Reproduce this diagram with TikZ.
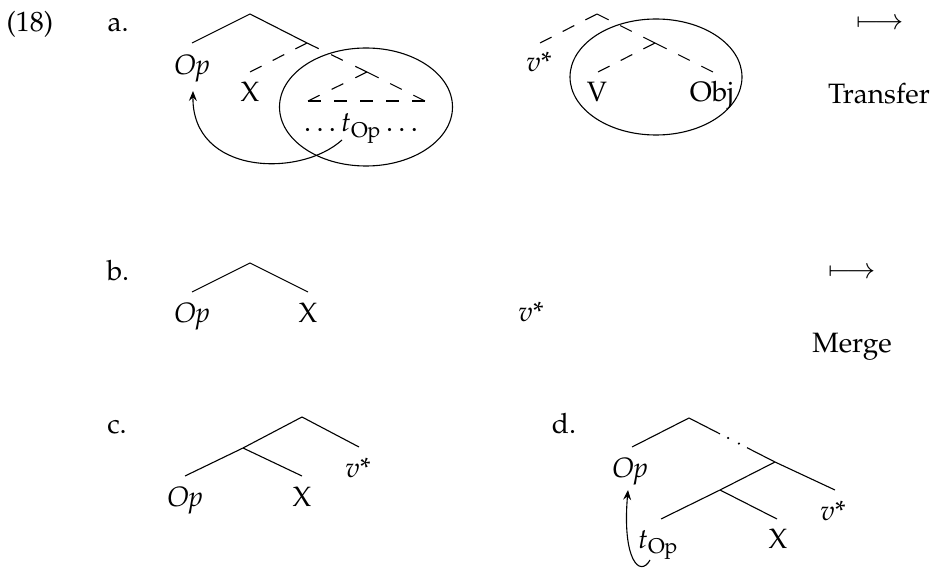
\documentclass[tikz,border=0pt]{standalone}
\usepackage[T1]{fontenc}
\usepackage{mathpazo}
\usetikzlibrary{arrows.meta,calc}
\begin{document}
\begin{tikzpicture}[x=1pt,y=-1pt,
  br/.style={line width=1.1pt},
  dfit/.style={line width=1.1pt, dash pattern=on 13pt off #1pt},
  mv/.style={line width=1.1pt, -{Stealth[length=10pt,width=8pt,inset=3.5pt]}},
  lab/.style={anchor=base, inner sep=0pt, font=\fontsize{28}{34}\selectfont}]
\useasboundingbox (0,0) rectangle (935,569);

% ---------- labels of the example ----------
\node[lab] (n18) at (30,32) {(18)};
\node[lab] (la) at (118,32) {a.};
\node[lab] (lb) at (118,281) {b.};
\node[lab] (lc) at (117,433) {c.};
\node[lab] (ld) at (564,433) {d.};

% ---------- (a) first tree ----------
\coordinate (a1r) at (250,14);
\coordinate (a1op) at (192,43);
\coordinate (a1n) at (307,43);
\coordinate (a1x) at (250,72);
\coordinate (a1m) at (367,72);
\coordinate (a1tl) at (308,101);
\coordinate (a1tr) at (425,101);
\draw[br] (a1op) -- (a1r) -- (a1n);
\draw[dfit=12.5] (a1n) -- (a1x);
\draw[dfit=13.8] (a1n) -- (a1m);
\draw[dfit=13.4] (a1m) -- (a1tl);
\draw[dfit=13] (a1tl) -- (a1tr);
\draw[dfit=12.9] (a1m) -- (a1tr);
\node[lab] (aOp) at (192,75) {\textit{Op}};
\node[lab] (aX) at (250,102) {X};
\node[lab] (aT) at (361,132) {$\ldots t_{\mathrm{Op}} \ldots$};
\draw[br] (366,107) ellipse [x radius=86.5pt, y radius=59pt];
\coordinate (a1t) at (342,140);
\coordinate (a1opb) at (193,91);
\draw[mv] (a1t) .. controls (300,178) and (192,175) .. (a1opb);

% ---------- (a) second tree ----------
\coordinate (a2r) at (597,14);
\coordinate (a2v) at (540,43);
\coordinate (a2n) at (655,43);
\coordinate (a2V) at (598,72);
\coordinate (a2o) at (713,72);
\draw[dfit=12.5] (a2r) -- (a2v);
\draw[dfit=12.9] (a2r) -- (a2n);
\draw[dfit=12.9] (a2n) -- (a2o);
\draw[dfit=12.5] (a2n) -- (a2V);
\node[lab] (av) at (539,72) {$v$*};
\node[lab] (aV) at (597,102) {V};
\node[lab] (aObj) at (712,102) {Obj};
\draw[br] (656,77) ellipse [x radius=86pt, y radius=58pt];

\node[lab] (amap) at (880,30) {$\longmapsto$};
\node[lab] (atr) at (879,104) {Transfer};

% ---------- (b) ----------
\coordinate (br) at (250,263);
\coordinate (bop) at (192,292);
\coordinate (bx) at (308,292);
\draw[br] (bop) -- (br) -- (bx);
\node[lab] (bOp) at (192,323) {\textit{Op}};
\node[lab] (bX) at (308,323) {X};
\node[lab] (bv) at (531,322) {$v$*};
\node[lab] (bmap) at (852,279) {$\longmapsto$};
\node[lab] (bme) at (852,353) {Merge};

% ---------- (c) ----------
\coordinate (cr) at (302,417);
\coordinate (cv) at (359,447);
\coordinate (cn) at (243,448);
\coordinate (cop) at (185,476);
\coordinate (cx) at (302,476);
\draw[br] (cop) -- (cn) -- (cr) -- (cv);
\draw[br] (cn) -- (cx);
\node[lab] (cOp) at (185,506) {\textit{Op}};
\node[lab] (cX) at (302,506) {X};
\node[lab] (cvs) at (358,477) {$v$*};

% ---------- (d) ----------
\coordinate (dr) at (689,418);
\coordinate (dop) at (632,447);
\coordinate (dd1) at (720,433.9);
\coordinate (dd2) at (747,447.7);
\coordinate (dn1) at (775,462);
\coordinate (dv) at (835,490);
\coordinate (dn2) at (720,490);
\coordinate (dt) at (661,519);
\coordinate (dx) at (777,519);
\draw[br] (dop) -- (dr) -- (dd1);
\fill ($(dd1)!0.3!(dd2)$) circle (1.2pt);
\fill ($(dd1)!0.7!(dd2)$) circle (1.2pt);
\draw[br] (dd2) -- (dn1) -- (dv);
\draw[br] (dn1) -- (dn2) -- (dt);
\draw[br] (dn2) -- (dx);
\node[lab] (dOp) at (630,477) {\textit{Op}};
\node[lab] (dvs) at (833,520) {$v$*};
\node[lab] (dX) at (778,548) {X};
\node[lab] (dT) at (658,548) {$t_{\mathrm{Op}}$};
\coordinate (dts) at (650,560);
\coordinate (dopb) at (628,490);
\draw[mv] (dts) .. controls (640,578) and (622,560) .. (dopb);
\end{tikzpicture}
\end{document}
